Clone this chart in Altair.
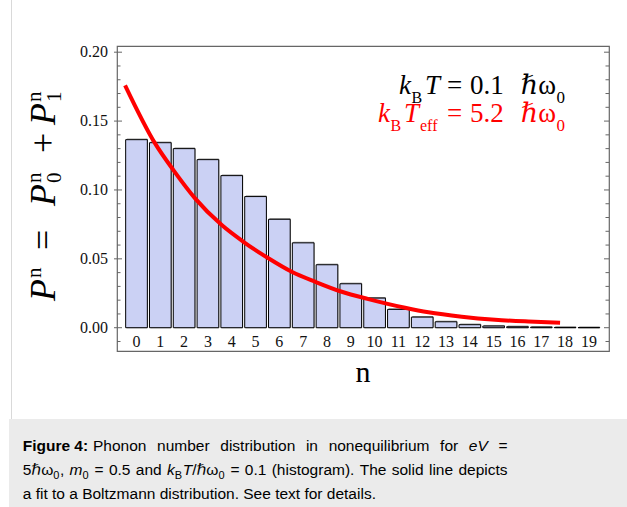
import altair as alt
import pandas as pd

# ---------------- data ----------------
n_vals = list(range(20))
p_vals = [0.1365, 0.1343, 0.1300, 0.1220, 0.1104, 0.0952, 0.0787, 0.0616, 0.0457, 0.0319,
          0.0215, 0.0133, 0.0077, 0.0043, 0.0022, 0.0012, 0.0007, 0.0004, 0.0002, 0.0001]
fit_n = [-0.48, 0.78, 1.55, 2.46, 3.58, 4.49, 5.54, 6.52, 7.50, 8.62, 9.74, 11.28, 12.26,
         13.66, 15.06, 16.46, 17.79]
fit_p = [0.176, 0.1338, 0.1144, 0.0939, 0.0745, 0.0624, 0.0504, 0.0406, 0.0334, 0.0261,
         0.0208, 0.0145, 0.0112, 0.0080, 0.0058, 0.0045, 0.0036]
y_major = [0.0, 0.05, 0.10, 0.15, 0.20]
y_minor = [-0.01, 0.01, 0.02, 0.03, 0.04, 0.06, 0.07, 0.08, 0.09, 0.11, 0.12, 0.13, 0.14,
           0.16, 0.17, 0.18, 0.19]

# ---------------- layout / style ----------------
L, T, W, H = 117, 46, 492, 305
SERIF = "Liberation Serif, DejaVu Serif"
SANS = "Liberation Sans, Arial, DejaVu Sans"
FRAME = "#666666"
BAR = "#cbd1f4"
RED = "#ff0000"

xscale = alt.Scale(domain=[-0.819, 19.845], nice=False, zero=False)
yscale = alt.Scale(domain=[-0.0169, 0.2045], nice=False, zero=False)

dummy = alt.Data(values=[{"a": 1}])


def txt(s, X, Y, size, color="black", font=SERIF, style="normal", weight="normal",
        align="left", angle=0):
    return alt.Chart(dummy).mark_text(
        text=s, font=font, fontSize=size, fontStyle=style, fontWeight=weight,
        color=color, align=align, baseline="alphabetic", angle=angle
    ).encode(x=alt.value(X - L), y=alt.value(Y - T))


# Helvetica/Arial advance widths (1/1000 em)
HW = {' ': 278, '!': 278, '(': 333, ')': 333, ',': 278, '-': 333, '.': 278, '/': 278,
      ':': 278, '=': 584, '+': 584,
      'A': 667, 'B': 667, 'C': 722, 'D': 722, 'E': 667, 'F': 611, 'G': 778, 'H': 722,
      'I': 278, 'J': 500, 'K': 667, 'L': 556, 'M': 833, 'N': 722, 'O': 778, 'P': 667,
      'Q': 778, 'R': 722, 'S': 667, 'T': 611, 'U': 722, 'V': 667, 'W': 944, 'X': 667,
      'Y': 667, 'Z': 611,
      'a': 556, 'b': 556, 'c': 500, 'd': 556, 'e': 556, 'f': 278, 'g': 556, 'h': 556,
      'i': 222, 'j': 222, 'k': 500, 'l': 222, 'm': 833, 'n': 556, 'o': 556, 'p': 556,
      'q': 556, 'r': 333, 's': 500, 't': 278, 'u': 556, 'v': 500, 'w': 722, 'x': 500,
      'y': 500, 'z': 500, 'ℏ': 634, 'ω': 780}
BW = {'F': 611, 'i': 278, 'g': 611, 'u': 611, 'r': 389, 'e': 556, ':': 333, ' ': 278}


def wid(s, size, bold=False):
    tot = 0
    for c in s:
        if bold and c in BW:
            tot += BW[c]
        else:
            tot += HW.get(c, 556)
    return tot * size / 1000.0


layers = []

# caption background and page border line
layers.append(alt.Chart(dummy).mark_rect(color="#ebebeb").encode(
    x=alt.value(9 - L), x2=alt.value(627 - L), y=alt.value(419 - T), y2=alt.value(507 - T)))
layers.append(alt.Chart(dummy).mark_rule(color="#d9d9d9", strokeWidth=1).encode(
    x=alt.value(11.5 - L), y=alt.value(0 - T), y2=alt.value(419 - T)))

# bars (with faint Mathematica-like edge shadow)
bar_df = pd.DataFrame({"n": n_vals, "p": p_vals})
shadow = alt.Chart(bar_df).transform_calculate(
    x0="datum.n - 0.455", x1="datum.n + 0.455", z="0"
).mark_rect(fill=None, stroke="#8c8c8c", strokeWidth=1, xOffset=1.2, yOffset=-0.6).encode(
    x=alt.X("x0:Q", scale=xscale, axis=None),
    x2="x1:Q",
    y=alt.Y("p:Q", scale=yscale, axis=None),
    y2="z:Q",
)
bars = alt.Chart(bar_df).transform_calculate(
    x0="datum.n - 0.455", x1="datum.n + 0.455", z="0"
).mark_rect(fill=BAR, stroke="black", strokeWidth=1).encode(
    x=alt.X("x0:Q", scale=xscale, axis=None),
    x2="x1:Q",
    y=alt.Y("p:Q", scale=yscale, axis=None),
    y2="z:Q",
)
layers += [shadow, bars]

# bar labels inside the frame
layers.append(alt.Chart(bar_df).mark_text(font=SERIF, fontSize=16, color="#111111",
                                         baseline="alphabetic").encode(
    x=alt.X("n:Q", scale=xscale, axis=None),
    y=alt.value(347.3 - T),
    text="n:N"))

# fit curve
fit_df = pd.DataFrame({"n": fit_n, "p": fit_p})
layers.append(alt.Chart(fit_df).mark_line(color=RED, strokeWidth=4, interpolate="monotone").encode(
    x=alt.X("n:Q", scale=xscale, axis=None),
    y=alt.Y("p:Q", scale=yscale, axis=None)))

# frame ticks (inward, left and right) and y tick labels
maj = pd.DataFrame({"v": y_major})
mnr = pd.DataFrame({"v": y_minor})
for df, x0, x1 in [(maj, -3, 5), (mnr, 0, 3.5), (maj, W - 5, W), (mnr, W - 3.5, W)]:
    layers.append(alt.Chart(df).mark_rule(color=FRAME, strokeWidth=1).encode(
        y=alt.Y("v:Q", scale=yscale, axis=None), x=alt.value(x0), x2=alt.value(x1)))
layers.append(alt.Chart(maj).mark_text(font=SERIF, fontSize=16, color="#111111", align="right",
                                      baseline="middle").encode(
    y=alt.Y("v:Q", scale=yscale, axis=None), x=alt.value(108 - L),
    text=alt.Text("v:Q", format=".2f")))

# in-plot annotation
b1, s1 = 94.3, 103.0
layers += [
    txt("k", 399, b1, 27, style="italic"),
    txt("B", 411.5, s1, 16),
    txt("T", 425, b1, 27, style="italic"),
    txt("=", 447, b1, 27),
    txt("0.1", 470, b1, 27),
    txt("ℏω", 556, b1, 27, align="right"),
    txt("0", 556.5, s1, 17),
]
b2, s2 = 121.7, 131.0
layers += [
    txt("k", 378, b2, 27, style="italic", color=RED),
    txt("B", 390.5, s2, 16, color=RED),
    txt("T", 404, b2, 27, style="italic", color=RED),
    txt("eff", 420, s2, 16, color=RED),
    txt("=", 447, b2, 27, color=RED),
    txt("5.2", 470, b2, 27, color=RED),
    txt("ℏω", 556, b2, 27, align="right", color=RED),
    txt("0", 556.5, s2, 17, color=RED),
]

# axis titles
layers.append(txt("n", 363, 382, 30, align="center"))
bx, supx, subx = 55, 41, 61
layers += [
    txt("P", bx, 301, 36, style="italic", angle=270),
    txt("n", supx, 278, 21, angle=270),
    txt("=", bx, 250, 36, angle=270),
    txt("P", bx, 206, 36, style="italic", angle=270),
    txt("n", supx, 183, 21, angle=270),
    txt("0", subx, 183, 21, angle=270),
    txt("+", bx, 153, 36, angle=270),
    txt("P", bx, 125, 36, style="italic", angle=270),
    txt("n", supx, 102, 21, angle=270),
    txt("1", subx, 102, 21, angle=270),
]

# caption (justified lines 1-2)
CS, SS = 15.5, 11
X0, X1 = 22.7, 507.5


def P(t, style="normal", weight="normal", sub=False):
    return (t, style, weight, sub)


def word_w(word):
    return sum(wid(t, SS if sub else CS, weight == "bold") + (0.6 if sub else 0)
               for (t, style, weight, sub) in word)


def justify(words, y, x0, x1):
    ws = [word_w(w) for w in words]
    gap = (x1 - x0 - sum(ws)) / (len(words) - 1)
    cx = x0
    for w, ww in zip(words, ws):
        px = cx
        for (t, style, weight, sub) in w:
            size = SS if sub else CS
            layers.append(txt(t, px, y + (4 if sub else 0), size, font=SANS, style=style,
                              weight=weight))
            px += wid(t, size, weight == "bold") + (0.6 if sub else 0)
        cx += ww + gap


line1 = [[P("Phonon")], [P("number")],
         [P("distribution")], [P("in")], [P("nonequilibrium")], [P("for")],
         [P("eV", style="italic")], [P("=")]]
line2 = [[P("5"), P("ℏω"), P("0", sub=True), P(",")],
         [P("m", style="italic"), P("0", sub=True)],
         [P("=")], [P("0.5")], [P("and")],
         [P("k", style="italic"), P("B", sub=True), P("T", style="italic"), P("/"), P("ℏω"),
          P("0", sub=True)],
         [P("=")], [P("0.1")], [P("(histogram).")], [P("The")], [P("solid")], [P("line")],
         [P("depicts")]]
y1, y2, y3 = 450.7, 475.0, 499.3
layers.append(txt("Figure 4:", X0, y1, CS, font=SANS, weight="bold"))
justify(line1, y1, 93.0, X1)
justify(line2, y2, X0, X1)
layers.append(txt("a fit to a Boltzmann distribution. See text for details.", X0, y3, CS,
                  font=SANS))

chart = alt.layer(*layers).properties(
    width=W, height=H,
    padding={"left": L, "top": T, "right": 627 - L - W, "bottom": 507 - T - H},
    autosize=alt.AutoSizeParams(type="none"),
    background="white",
).configure_view(stroke=FRAME, strokeWidth=1.2)

chart.save("out.html", embed_options={"renderer": "svg", "actions": False})
